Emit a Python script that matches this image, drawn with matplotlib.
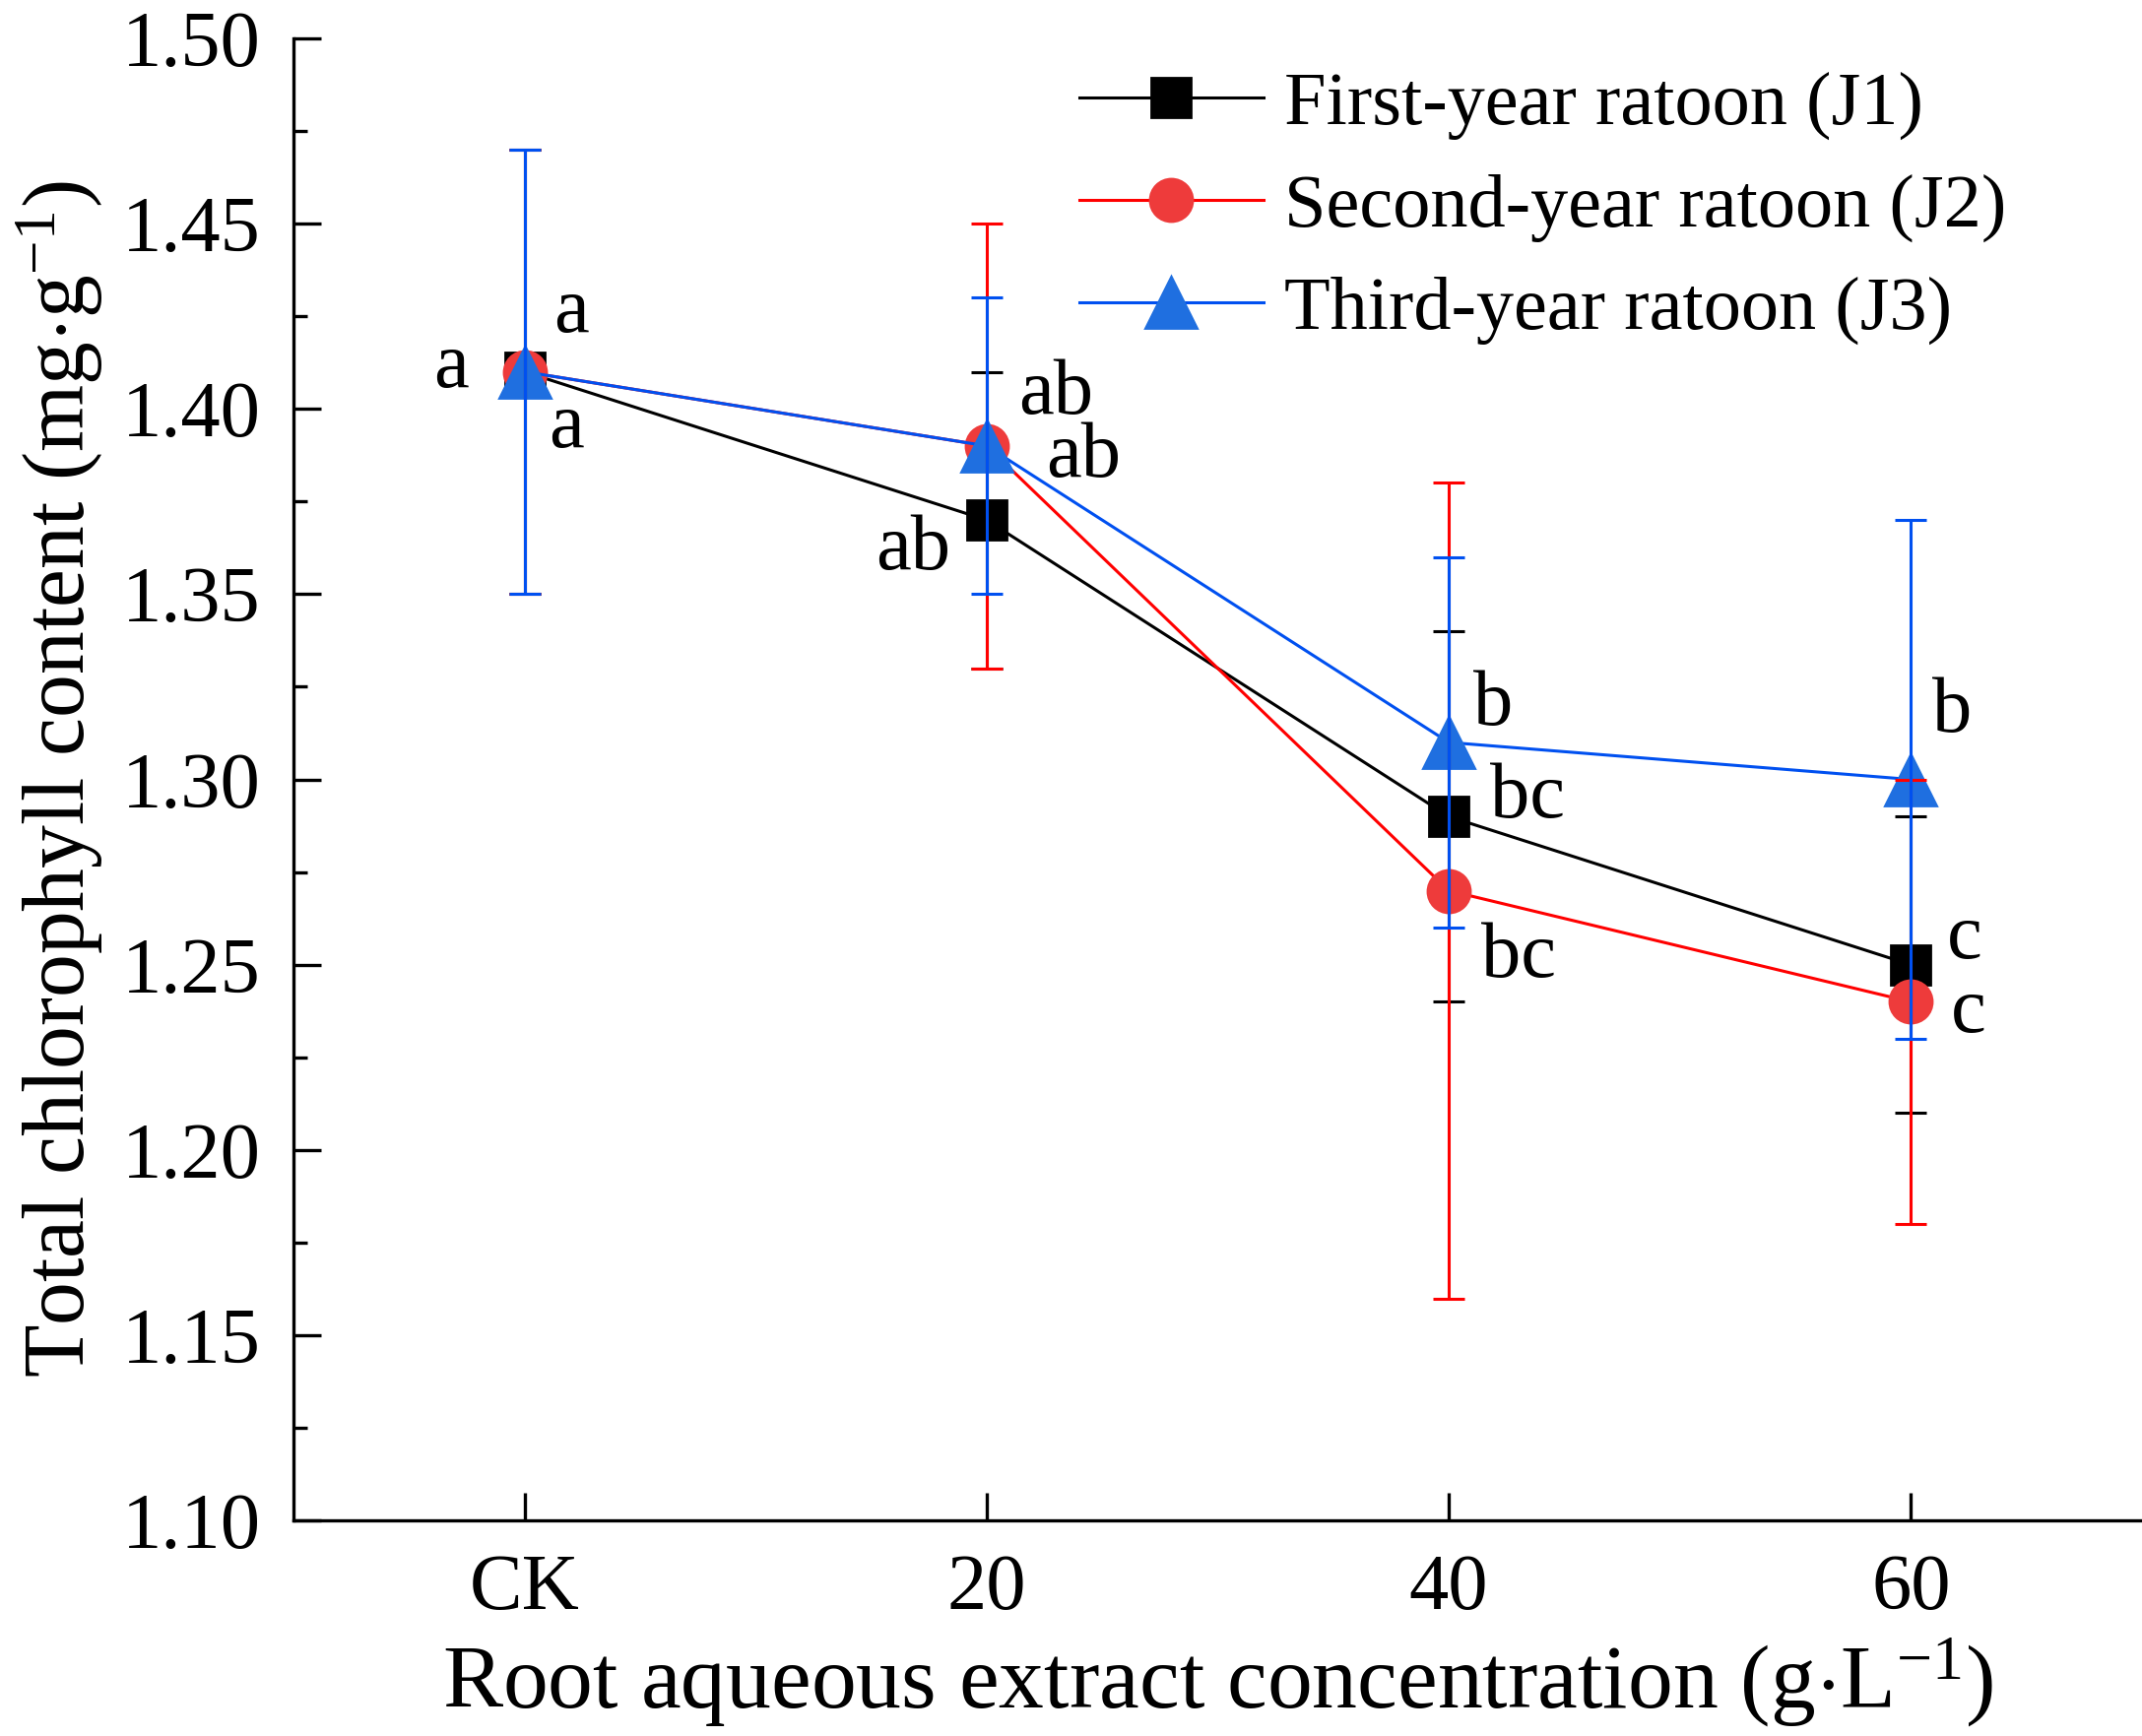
import numpy as np
import matplotlib.pyplot as plt
from matplotlib.ticker import MultipleLocator, FormatStrFormatter

plt.rcParams['font.family'] = ['Liberation Serif', 'DejaVu Serif']
plt.rcParams['mathtext.fontset'] = 'custom'
plt.rcParams['mathtext.rm'] = 'Liberation Serif'
plt.rcParams['mathtext.it'] = 'Liberation Serif:italic'

# data
categories = ["CK", "20", "40", "60"]
labels = ["First-year ratoon (J1)", "Second-year ratoon (J2)", "Third-year ratoon (J3)"]
j1 = [1.41, 1.37, 1.29, 1.25]
j2 = [1.41, 1.39, 1.27, 1.24]
j3 = [1.41, 1.39, 1.31, 1.30]
j1_err = [0.06, 0.04, 0.05, 0.04]
j2_err = [0.06, 0.06, 0.11, 0.06]
j3_err = [0.06, 0.04, 0.05, 0.07]

# significance letters: (x, y, text)
letters_x = [-0.16, 0.10, 0.09, 0.84, 1.15, 1.21, 2.095, 2.17, 2.15, 3.09, 3.115, 3.125]
letters_y = [1.411, 1.426, 1.395, 1.362, 1.404, 1.387, 1.320, 1.295, 1.252, 1.318, 1.257, 1.237]
letters_t = ["a", "a", "a", "ab", "ab", "ab", "b", "bc", "bc", "b", "c", "c"]

colors = ["black", "#ff0000", "#0050f0"]
mcolors = ["black", "#ee3b3b", "#1f6fe0"]
markers = ["s", "o", "^"]
msizes = [14.5, 15.5, 19]

fig = plt.figure(figsize=(10.875, 8.815), dpi=200)
ax = fig.add_axes([0.137, 0.124, 0.863, 0.854])

x = np.arange(len(categories))
series = [j1, j2, j3]
errs = [j1_err, j2_err, j3_err]

handles = []
for vals, c, mc, m, ms, lab in zip(series, colors, mcolors, markers, msizes, labels):
    h, = ax.plot(x, vals, color=c, lw=1.1, marker=m, markersize=ms,
                 markerfacecolor=mc, markeredgecolor=mc, label=lab, zorder=2)
    handles.append(h)

for vals, e, c in zip(series, errs, colors):
    ax.errorbar(x, vals, yerr=e, fmt='none', ecolor=c, elinewidth=1.1,
                capsize=5.6, capthick=1.1, zorder=3)

for lx, ly, lt in zip(letters_x, letters_y, letters_t):
    ax.text(lx, ly, lt, fontsize=29, ha='center', va='center', zorder=4)

ax.set_xlim(-0.5, 3.5)
ax.set_ylim(1.10, 1.50)
ax.set_xticks(x)
ax.set_xticklabels(categories)
ax.yaxis.set_major_locator(MultipleLocator(0.05))
ax.yaxis.set_minor_locator(MultipleLocator(0.025))
ax.yaxis.set_major_formatter(FormatStrFormatter('%.2f'))

for s in ['top', 'right']:
    ax.spines[s].set_visible(False)
for s in ['left', 'bottom']:
    ax.spines[s].set_linewidth(1.2)

ax.tick_params(axis='both', which='major', direction='in', length=10, width=1.2,
               labelsize=29, pad=12)
ax.tick_params(axis='y', which='minor', direction='in', length=5, width=1.2)

ax.set_xlabel(r"Root aqueous extract concentration (g$\cdot$L$^{\mathrm{-1}}$)", fontsize=33, labelpad=4)
ax.set_ylabel(r"Total chlorophyll content (mg$\cdot$g$^{\mathrm{-1}}$)", fontsize=31.5, labelpad=6)

ax.legend(handles=handles, loc='upper left', bbox_to_anchor=(0.425, 0.978),
          frameon=False, fontsize=27.5, handlelength=2.45, handletextpad=0.28,
          labelspacing=0.45, borderpad=0, borderaxespad=0)

plt.savefig("out.png", dpi=200)
